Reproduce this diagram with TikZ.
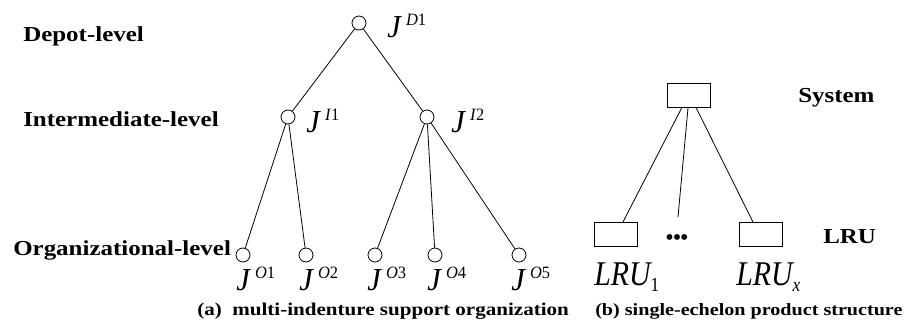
\documentclass[tikz,border=0pt]{standalone}
\usepackage{fontspec}
\usetikzlibrary{calc}
\setmainfont{Liberation Serif}
\newfontfamily\lvlfont[FakeStretch=1.17,BoldFont={Liberation Serif Bold}]{Liberation Serif}
\newfontfamily\eqfont[FakeStretch=0.86,ItalicFont={Liberation Serif Italic}]{Liberation Serif}
\newfontfamily\jfont[FakeStretch=0.95,ItalicFont={Liberation Serif Italic}]{Liberation Serif}
\newcommand{\Jlab}[2]{{\itshape J}\,\raisebox{8.5pt}{\jfont\fontsize{13pt}{13pt}\selectfont\textit{#1}#2}}
\newcommand{\LRUlab}[1]{{\itshape LRU}\raisebox{-5pt}{\eqfont\fontsize{15pt}{15pt}\selectfont #1}}
\begin{document}
\begin{tikzpicture}[x=0.75pt,y=-0.75pt,
  lvl/.style={font=\lvlfont\bfseries\fontsize{16pt}{18pt}\selectfont, anchor=base west, inner sep=0},
  capt/.style={font=\lvlfont\bfseries\fontsize{13.5pt}{15pt}\selectfont, anchor=base west, inner sep=0},
  jl/.style={font=\jfont\fontsize{24pt}{26pt}\selectfont, anchor=base west, inner sep=0},
  ll/.style={font=\eqfont\fontsize{26pt}{28pt}\selectfont, anchor=base west, inner sep=0},
  vert/.style={circle, draw, minimum size=10.5pt, inner sep=0, line width=0.6pt},
  unit/.style={draw, minimum width=32.25pt, minimum height=18pt, inner sep=0, line width=0.6pt},
  link/.style={line width=0.6pt}]
\useasboundingbox (0,0) rectangle (911,322);

% level labels
\node[lvl] (ld) at (23,41) {Depot-level};
\node[lvl] (li) at (23,126) {Intermediate-level};
\node[lvl] (lo) at (13,255) {Organizational-level};
\node[lvl] (ls) at (798,102) {System};
\node[lvl] (ll) at (823,243) {LRU};

% tree (a)
\node[vert] (D1) at (359,23) {};
\node[vert] (I1) at (288,117) {};
\node[vert] (I2) at (427,117) {};
\node[vert] (O1) at (243,255) {};
\node[vert] (O2) at (306,255) {};
\node[vert] (O3) at (375,255) {};
\node[vert] (O4) at (435,255) {};
\node[vert] (O5) at (519,255) {};

\draw[link] (D1) -- (I1);
\draw[link] (D1) -- (I2);
\draw[link] (I1) -- (O1);
\draw[link] (I1) -- (O2);
\draw[link] (I2) -- (O3);
\draw[link] (I2) -- (O4);
\draw[link] (I2) -- (O5);

\node[jl] (jd1) at (387,37) {\Jlab{D}{1}};
\node[jl] (ji1) at (306,132) {\Jlab{I}{1}};
\node[jl] (ji2) at (451,132) {\Jlab{I}{2}};
\node[jl] (jo1) at (236,290) {\Jlab{O}{1}};
\node[jl] (jo2) at (299,290) {\Jlab{O}{2}};
\node[jl] (jo3) at (367,290) {\Jlab{O}{3}};
\node[jl] (jo4) at (427,290) {\Jlab{O}{4}};
\node[jl] (jo5) at (511,290) {\Jlab{O}{5}};

% product structure (b)
\node[unit] (sys) at (688.5,95) {};
\node[unit] (lru1) at (615.5,234.5) {};
\node[unit] (lrux) at (760.5,234.5) {};
\coordinate (mid) at (678,217);
\draw[link] ($(sys.south west)!0.35!(sys.south east)$) -- ($(lru1.north west)!0.67!(lru1.north east)$);
\draw[link] ($(sys.south west)!0.49!(sys.south east)$) -- (mid);
\draw[link] ($(sys.south west)!0.67!(sys.south east)$) -- ($(lrux.north west)!0.33!(lrux.north east)$);
\node[font=\bfseries\fontsize{16pt}{18pt}\selectfont, anchor=base, inner sep=0] (dots) at (677,244) {•••};

\node[ll] (t1) at (594,285) {\LRUlab{1}};
\node[ll] (tx) at (736,285) {\LRUlab{\itshape x}};

% captions
\node[capt] (ca) at (197,315) {(a)\ \ multi-indenture support organization};
\node[capt, font=\lvlfont\bfseries\fontsize{12.9pt}{15pt}\selectfont] (cb) at (595,315) {(b) single-echelon product structure};
\end{tikzpicture}
\end{document}
